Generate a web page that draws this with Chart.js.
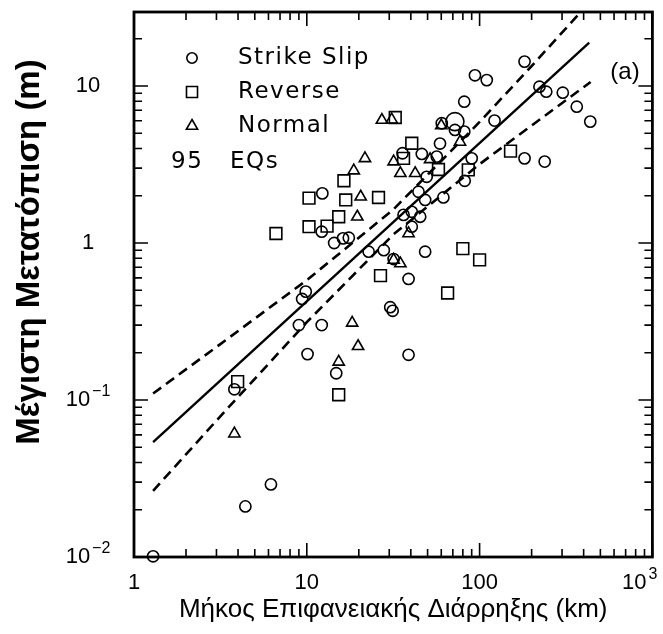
<!DOCTYPE html>
<html>
<head>
<meta charset="utf-8">
<script src="https://cdn.jsdelivr.net/npm/chart.js@4.4.0/dist/chart.umd.min.js"></script>
<style>
  html, body { margin: 0; padding: 0; background: #fff; }
  #chart { display: block; }
</style>
</head>
<body>
<canvas id="chart" width="663" height="634"></canvas>
<script>
// surface rupture length (km) vs maximum displacement (m)
const strikeSlip = [
  [1.29, 0.0101], [4.41, 0.021], [6.2, 0.029], [3.81, 0.117], [10.1, 0.196],
  [9.0, 0.30], [12.2, 0.30], [9.4, 0.44], [9.86, 0.49], [14.8, 0.148],
  [12.3, 2.07], [12.2, 1.18], [14.4, 1.0], [16.2, 1.07], [17.5, 1.08],
  [22.8, 0.88], [27.9, 0.90], [31.8, 0.79], [30.4, 0.39], [31.4, 0.37],
  [38.8, 0.59], [38.8, 0.194], [48.4, 0.88], [36.3, 1.51], [40.5, 1.58],
  [45.3, 1.47], [40.5, 1.27], [44.3, 2.12], [48.4, 1.88], [61.7, 1.95],
  [49.4, 2.64], [35.8, 3.73], [46.3, 3.69], [56.5, 3.55], [59, 4.3],
  [60.4, 5.79], [72, 5.25], [81.5, 7.94], [81.5, 5.12], [82, 2.49],
  [90, 3.46], [94, 11.7], [110, 10.9], [122, 6.02], [182, 14.3],
  [182, 3.46], [238, 3.3], [222, 9.9], [243, 9.2], [303, 9.06],
  [365, 7.38], [437, 5.93]
];
const strikeSlipLarge = [[72, 5.93]];
const reverse = [
  [3.98, 0.131], [6.63, 1.15], [10.3, 1.93], [10.3, 1.27], [13.1, 1.28],
  [15.3, 1.47], [16.4, 2.49], [16.8, 1.88], [15.3, 0.108], [26, 1.95],
  [26.7, 0.62], [32.5, 6.3], [36.3, 3.46], [40.5, 4.32], [57.8, 2.94],
  [86, 2.92], [151, 3.85], [65.3, 0.48], [80, 0.92], [100, 0.78]
];
const normal = [
  [3.81, 0.061], [15.3, 0.175], [18.3, 0.31], [19.8, 0.22], [18.7, 2.89],
  [21.7, 3.46], [20.5, 1.97], [19.6, 1.47], [27.2, 6.07], [31, 6.1],
  [31.8, 3.3], [34.8, 2.78], [42.4, 2.78], [51.7, 3.41], [77, 4.4],
  [60, 5.6], [38.8, 1.15], [31.8, 0.78], [34.8, 0.74]
];
const fitLine = [[1.29, 0.054], [431, 18.9]];
const upperBound = [[1.29, 0.110], [3.16, 0.227], [10, 0.58], [31.6, 1.63], [100, 5.9], [200, 13.4], [385, 29.6]];
const lowerBound = [[1.29, 0.0264], [3.16, 0.0787], [10, 0.313], [31.6, 1.13], [100, 3.18], [200, 5.6], [439, 10.6]];

const xTicks = [1, 10, 100, 1000];
const xTickLabels = [["1", ""], ["10", ""], ["100", ""], ["10", "3"]];
const yTicks = [0.01, 0.1, 1, 10];
const yTickLabels = [["10", "\u22122"], ["10", "\u22121"], ["1", ""], ["10", ""]];
const legendItems = [["circle", "Strike Slip"], ["rect", "Reverse"], ["triangle", "Normal"]];

const toPts = arr => arr.map(([x, y]) => ({ x, y }));

const markerBase = {
  showLine: false,
  backgroundColor: "rgba(0,0,0,0)",
  borderColor: "#000",
  pointBorderWidth: 1.6,
  clip: false
};

const tickFont = "22px 'Liberation Sans Narrow', 'Liberation Sans', Arial, sans-serif";
const supFont = "16px 'Liberation Sans', Arial, sans-serif";

function drawSup(ctx, base, sup, x, y, align) {
  ctx.font = tickFont;
  const wb = ctx.measureText(base).width;
  ctx.font = supFont;
  const ws = sup ? ctx.measureText(sup).width + 2 : 0;
  const total = wb + ws;
  let left = x - total / 2;
  if (align === "right") left = x - total;
  ctx.textAlign = "left";
  ctx.textBaseline = "middle";
  ctx.font = tickFont;
  ctx.fillText(base, left, y);
  if (sup) {
    ctx.font = supFont;
    ctx.fillText(sup, left + wb + 2, y - 8);
  }
}

const framePlugin = {
  id: "frame",
  afterDraw(chart) {
    const { ctx, chartArea: a, scales } = chart;
    const xs = scales.x, ys = scales.y;
    ctx.save();
    ctx.strokeStyle = "#000";
    ctx.fillStyle = "#000";

    // minor / major ticks, pointing inward on all four sides
    ctx.lineWidth = 1.6;
    for (let e = 0; e <= 3; e++) {
      for (let k = 1; k <= 9; k++) {
        const v = k * Math.pow(10, e);
        if (v > 1000) break;
        const px = xs.getPixelForValue(v);
        const len = k === 1 ? 14 : 8;
        ctx.beginPath();
        ctx.moveTo(px, a.bottom); ctx.lineTo(px, a.bottom - len);
        ctx.moveTo(px, a.top); ctx.lineTo(px, a.top + len);
        ctx.stroke();
      }
    }
    for (let e = -2; e <= 1; e++) {
      for (let k = 1; k <= 9; k++) {
        const v = k * Math.pow(10, e);
        if (v > ys.max) break;
        const py = ys.getPixelForValue(v);
        const len = k === 1 ? 14 : 8;
        ctx.beginPath();
        ctx.moveTo(a.left, py); ctx.lineTo(a.left + len, py);
        ctx.moveTo(a.right, py); ctx.lineTo(a.right - len, py);
        ctx.stroke();
      }
    }

    // box
    ctx.lineWidth = 2.8;
    ctx.strokeRect(a.left, a.top, a.right - a.left, a.bottom - a.top);

    // tick labels
    xTicks.forEach((v, i) => {
      const px = xs.getPixelForValue(v);
      const [b, s] = xTickLabels[i];
      if (i === xTicks.length - 1) drawSup(ctx, b, s, px + 5, a.bottom + 26, "right");
      else drawSup(ctx, b, s, px, a.bottom + 26, "center");
    });
    yTicks.forEach((v, i) => {
      const py = ys.getPixelForValue(v);
      const [b, s] = yTickLabels[i];
      drawSup(ctx, b, s, 88, py, "center");
    });

    // axis titles
    ctx.textAlign = "center";
    ctx.textBaseline = "alphabetic";
    ctx.font = "26px 'Liberation Sans', Arial, sans-serif";
    ctx.fillText("Μήκος Επιφανειακής Διάρρηξης (km)", (a.left + a.right) / 2, 617);
    ctx.save();
    ctx.translate(39, 252);
    ctx.rotate(-Math.PI / 2);
    ctx.font = "bold 33px 'Liberation Sans', Arial, sans-serif";
    ctx.fillText("Μέγιστη Μετατόπιση (m)", 0, 0);
    ctx.restore();

    // in-plot legend
    ctx.textBaseline = "middle";
    ctx.font = "23px 'DejaVu Sans', sans-serif";
    ctx.letterSpacing = "1.5px";
    ctx.textAlign = "left";
    const rows = [58, 92, 126];
    legendItems.forEach(([style, label], i) => {
      const r = style === "circle" ? 5.2 : style === "rect" ? 7.8 : 6.5;
      ctx.fillStyle = "rgba(0,0,0,0)";
      ctx.lineWidth = 1.6;
      Chart.helpers.drawPoint(ctx, { pointStyle: style, radius: r, borderWidth: 1.6, rotation: 0 }, 192, rows[i]);
      ctx.fillStyle = "#000";
      ctx.fillText(label, 238, rows[i]);
    });
    ctx.fillText("95", 171, 162);
    ctx.fillText("EQs", 230, 162);
    ctx.letterSpacing = "0px";

    ctx.font = "24px 'Liberation Sans', Arial, sans-serif";
    ctx.textAlign = "center";
    ctx.fillText("(a)", 625, 72);
    ctx.restore();
  }
};

new Chart(document.getElementById("chart"), {
  type: "scatter",
  data: {
    datasets: [
      { ...markerBase, label: "Strike Slip", data: toPts(strikeSlip), pointStyle: "circle", pointRadius: 5.6 },
      { ...markerBase, label: "Strike Slip (large)", data: toPts(strikeSlipLarge), pointStyle: "circle", pointRadius: 9 },
      { ...markerBase, label: "Reverse", data: toPts(reverse), pointStyle: "rect", pointRadius: 8.3 },
      { ...markerBase, label: "Normal", data: toPts(normal), pointStyle: "triangle", pointRadius: 6.5 },
      { label: "fit", data: toPts(fitLine), showLine: true, pointRadius: 0, borderColor: "#000", borderWidth: 2.4 },
      { label: "upper", data: toPts(upperBound), showLine: true, pointRadius: 0, borderColor: "#000", borderWidth: 2.6, borderDash: [10, 6] },
      { label: "lower", data: toPts(lowerBound), showLine: true, pointRadius: 0, borderColor: "#000", borderWidth: 2.6, borderDash: [10, 6] }
    ]
  },
  options: {
    responsive: false,
    animation: false,
    layout: { padding: { left: 134, right: 8, top: 12, bottom: 77 } },
    plugins: { legend: { display: false }, tooltip: { enabled: false } },
    scales: {
      x: { type: "logarithmic", min: 1, max: 1000, display: false },
      y: { type: "logarithmic", min: 0.01, max: 29.6, display: false }
    }
  },
  plugins: [framePlugin]
});
</script>
</body>
</html>
